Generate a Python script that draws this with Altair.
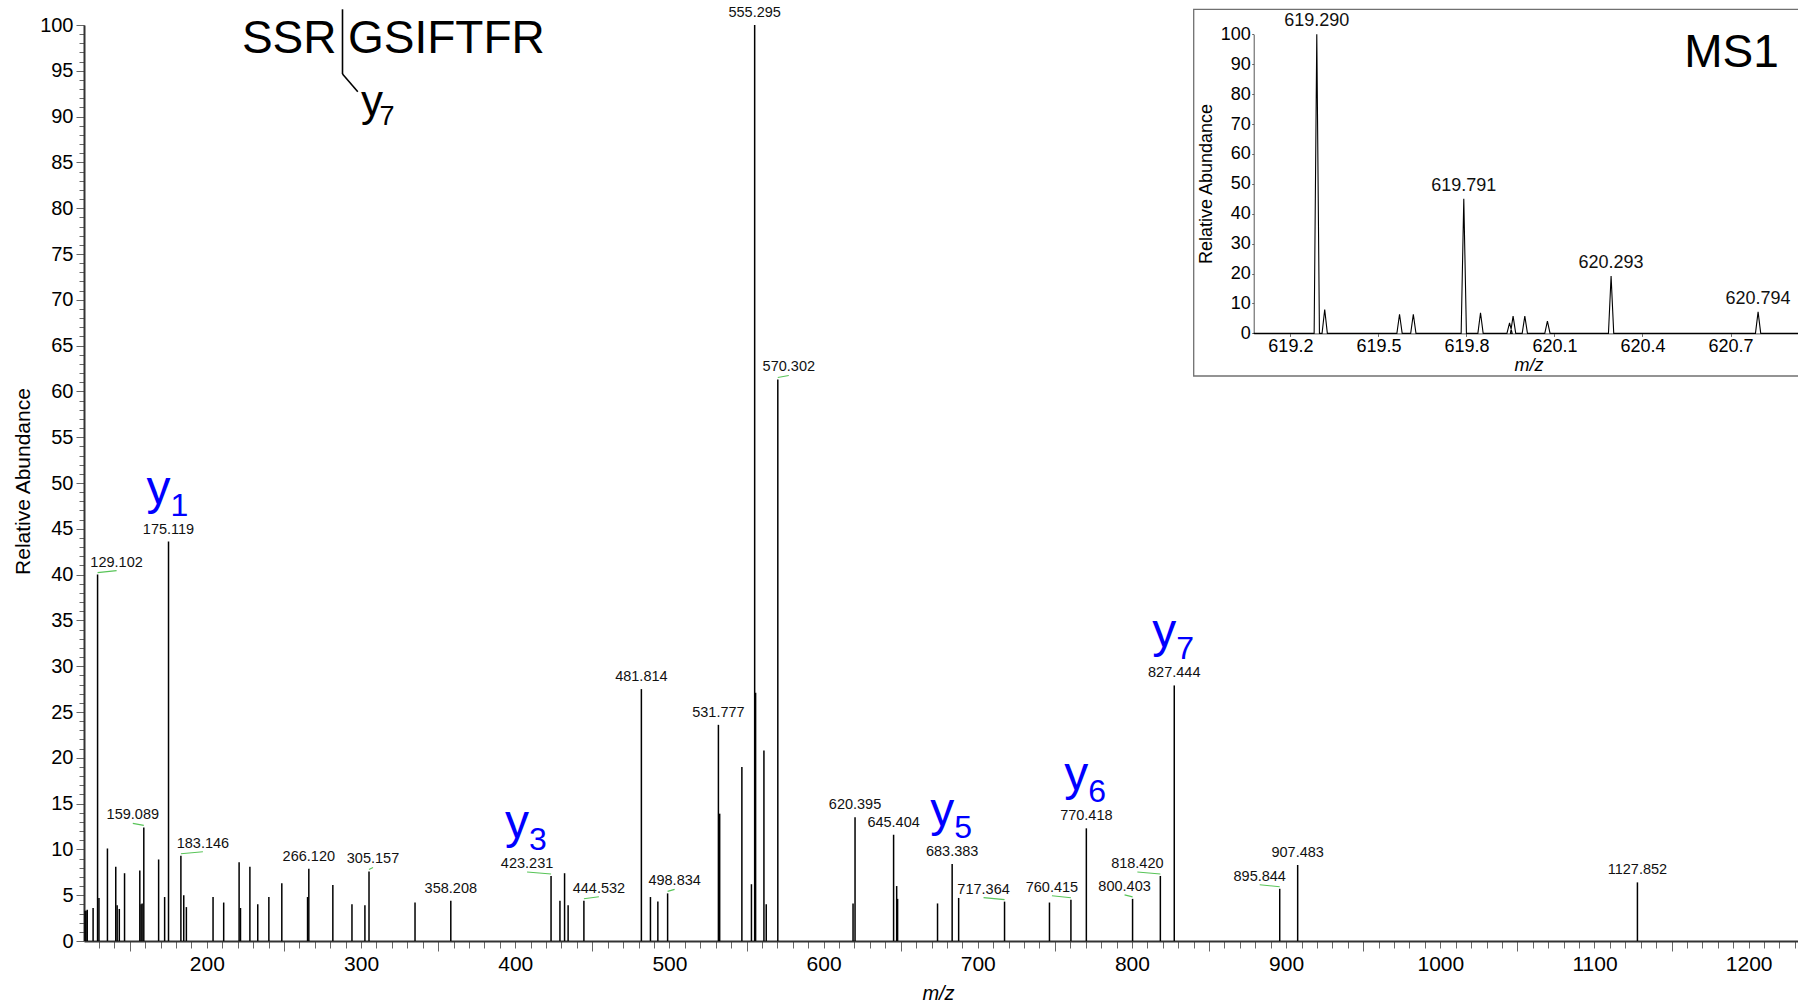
import altair as alt
import pandas as pd

FONT = "Liberation Sans"

# ---------------- MS2 spectrum: centroid m/z and relative abundance (%) ----------------
ms2_mz = [
    121.0, 121.6, 122.4, 126.2, 129.102, 130.0, 135.5, 140.9, 141.8, 143.2,
    146.6, 156.5, 157.3, 158.0, 159.089, 168.7, 172.6, 175.119, 183.146, 185.0,
    186.7, 204.0, 210.9, 220.9, 221.8, 227.9, 233.0, 240.2, 248.6, 265.3,
    266.120, 281.7, 294.1, 302.5, 305.157, 335.0, 358.208, 423.231, 429.0, 432.0,
    434.3, 444.532, 481.814, 487.7, 492.5, 498.834, 531.777, 532.6, 547.0, 553.2,
    555.295, 555.9, 561.3, 562.8, 570.302, 619.1, 620.395, 645.404, 647.4, 648.0,
    673.9, 683.383, 687.6, 717.364, 746.5, 760.415, 770.418, 800.403, 818.420, 827.444,
    895.844, 907.483, 1127.852,
]
ms2_int = [
    3.3, 3.3, 3.4, 3.6, 40.0, 4.7, 10.1, 8.1, 3.9, 3.5,
    7.4, 7.7, 4.0, 4.1, 12.4, 8.9, 4.8, 43.6, 9.3, 5.0,
    3.7, 4.8, 4.2, 8.6, 3.6, 8.1, 4.0, 4.8, 6.3, 4.8,
    7.9, 6.1, 4.0, 3.9, 7.6, 4.2, 4.4, 7.1, 4.4, 7.4,
    3.9, 4.4, 27.5, 4.8, 4.3, 5.2, 23.6, 13.9, 19.0, 6.2,
    100.0, 27.1, 20.8, 4.0, 61.3, 4.1, 13.5, 11.6, 6.0, 4.6,
    4.1, 8.4, 4.7, 4.3, 4.2, 4.5, 12.3, 4.6, 7.1, 27.9,
    5.7, 8.3, 6.4,
]
ms2_labelled = [
    "129.102", "159.089", "175.119", "183.146", "266.120", "305.157", "358.208",
    "423.231", "444.532", "481.814", "498.834", "531.777", "555.295", "570.302",
    "620.395", "645.404", "683.383", "717.364", "760.415", "770.418", "800.403",
    "818.420", "827.444", "895.844", "907.483", "1127.852",
]

# fragment ions annotated in blue (y-ion number -> peak)
ion_numbers = ["1", "3", "5", "6", "7"]
ion_peaks = ["175.119", "423.231", "683.383", "770.418", "827.444"]

# ---------------- MS1 precursor isotope envelope ----------------
ms1_mz = [619.290, 619.317, 619.572, 619.619, 619.791, 619.848,
          619.947, 619.959, 619.999, 620.076, 620.293, 620.794]
ms1_int = [100.0, 8.0, 6.4, 6.4, 45.0, 6.9, 3.5, 5.8, 5.8, 4.1, 19.2, 7.2]
ms1_labelled = ["619.290", "619.791", "620.293", "620.794"]

# axis tick values
x_minor_ticks = list(range(130, 1240, 10))
x_mid_ticks = list(range(150, 1200, 100))
y_label_ticks = list(range(0, 101, 5))
y_minor_ticks = list(range(0, 101, 1))
ms1_x_ticks = [619.2, 619.5, 619.8, 620.1, 620.4, 620.7]
ms1_y_ticks = list(range(0, 101, 10))

# ---------------- layout ----------------
PAD_L, PAD_T, PAD_B = 84, 25, 65
PLOT_W, PLOT_H = 1714, 916
X_MIN, X_MAX = 120.3, 1232.0
MZ_PER_PX = (X_MAX - X_MIN) / PLOT_W
PROFILE_HALF_WIDTH = 0.009  # m/z half width of the drawn MS1 profile peaks

# inset frame inside the plot area (pixels)
INSET_LEFT, INSET_RIGHT = 1169.7, 1714.0
INSET_TOP, INSET_BASE = 9.3, 308.4

# labels placed beside their peak (pixel shift), joined by a short green leader
label_shift_px = {
    "129.102": 19, "159.089": -11, "183.146": 22, "305.157": 4, "423.231": -24,
    "444.532": 15, "498.834": 7, "570.302": 11, "717.364": -21, "760.415": -19,
    "800.403": -8, "818.420": -23, "895.844": -20,
}

# ---------------- tables ----------------
ms2 = pd.DataFrame({"mz": ms2_mz, "inten": ms2_int})
ms2["base"] = 0.0
ms2["label"] = ms2["mz"].map(lambda v: f"{v:.3f}")
lab = ms2[ms2["label"].isin(ms2_labelled)].copy()
lab["shift"] = lab["label"].map(lambda s: label_shift_px.get(s, 0))
lab["label_x"] = lab["mz"] + lab["shift"] * MZ_PER_PX
lead = lab[lab["shift"] != 0].copy()
ions = lab.set_index("label").loc[ion_peaks].reset_index()
ions["ion"] = ion_numbers

ms1 = pd.DataFrame({"mz": ms1_mz, "inten": ms1_int})
ms1["label"] = ms1["mz"].map(lambda v: f"{v:.3f}")
ms1_lab = ms1[ms1["label"].isin(ms1_labelled)]
prof_x = [619.075]
prof_y = [0.0]
for m, h in zip(ms1_mz, ms1_int):
    prof_x += [m - PROFILE_HALF_WIDTH, m, m + PROFILE_HALF_WIDTH]
    prof_y += [0.0, h, 0.0]
prof_x.append(620.93)
prof_y.append(0.0)
profile = pd.DataFrame({"mz": prof_x, "inten": prof_y, "k": range(len(prof_x))})

one = pd.DataFrame({"k": [0]})

# ---------------- scales ----------------
xs = alt.Scale(domain=[X_MIN, X_MAX], nice=False, zero=False)
ys = alt.Scale(domain=[0, 100], nice=False, zero=False)
xs_in = alt.Scale(domain=[619.075, 620.93], range=[INSET_LEFT, INSET_RIGHT], nice=False, zero=False)
ys_in = alt.Scale(domain=[0, 100], range=[INSET_BASE, INSET_TOP], nice=False, zero=False)

AX = dict(grid=False, labelFont=FONT, titleFont=FONT, labelColor="black", titleColor="black",
          tickColor="#666666", tickWidth=1, labelOverlap=False, titleFontWeight="normal")

# ---------------- MS2 layers ----------------
peaks = alt.Chart(ms2).mark_rule(color="black", strokeWidth=1.5).encode(
    x=alt.X("mz:Q", scale=xs, axis=alt.Axis(
        orient="bottom", values=x_minor_ticks, tickSize=7, labelFontSize=21, labelPadding=5,
        labelExpr="datum.value % 100 === 0 ? format(datum.value, 'd') : ''",
        domainColor="#333333", domainWidth=2,
        title="m/z", titleFontStyle="italic", titleFontSize=20,
        titleX=854, titleY=52, titleBaseline="middle", titleAlign="center", **AX)),
    y=alt.Y("inten:Q", scale=ys, axis=alt.Axis(
        orient="left", values=y_label_ticks, tickSize=8, labelFontSize=20, labelPadding=3,
        domainColor="#333333", domainWidth=2,
        title="Relative Abundance", titleFontSize=21, titleAngle=270,
        titleX=-61, titleY=456, titleBaseline="middle", titleAlign="center", **AX)),
    y2=alt.Y2("base:Q"),
)

minor_ticks = alt.Chart(ms2).mark_point(opacity=0).encode(
    x=alt.X("mz:Q", scale=xs, axis=alt.Axis(
        orient="bottom", values=x_mid_ticks, tickSize=10, labels=False, domain=False,
        title="", **AX)),
    y=alt.Y("inten:Q", scale=ys, axis=alt.Axis(
        orient="left", values=y_minor_ticks, tickSize=5, labels=False, domain=False,
        title="", **AX)),
)

leaders = alt.Chart(lead).mark_rule(color="#58c458", strokeWidth=1.1, yOffset=-2, y2Offset=-4).encode(
    x=alt.X("mz:Q", scale=xs, axis=None),
    x2=alt.X2("label_x:Q"),
    y=alt.Y("inten:Q", scale=ys, axis=None),
    y2=alt.Y2("inten:Q"),
)

peak_labels = alt.Chart(lab).mark_text(
    baseline="bottom", dy=-5, fontSize=14.5, font=FONT, color="#111111"
).encode(
    x=alt.X("label_x:Q", scale=xs, axis=None),
    y=alt.Y("inten:Q", scale=ys, axis=None),
    text="label:N",
)

ion_y = alt.Chart(ions).mark_text(
    text="y", align="right", baseline="alphabetic", dx=2, dy=-38, fontSize=48, font=FONT, color="#0000ff"
).encode(
    x=alt.X("label_x:Q", scale=xs, axis=None),
    y=alt.Y("inten:Q", scale=ys, axis=None),
)

ion_n = alt.Chart(ions).mark_text(
    align="left", baseline="alphabetic", dx=2, dy=-26, fontSize=32, font=FONT, color="#0000ff"
).encode(
    x=alt.X("label_x:Q", scale=xs, axis=None),
    y=alt.Y("inten:Q", scale=ys, axis=None),
    text="ion:N",
)

# ---------------- peptide sequence with y7 cleavage ----------------
seq_left = alt.Chart(one).mark_text(
    text="SSR", align="right", baseline="alphabetic", fontSize=46, font=FONT, color="black"
).encode(x=alt.value(252.5), y=alt.value(28.3))
seq_right = alt.Chart(one).mark_text(
    text="GSIFTFR", align="left", baseline="alphabetic", fontSize=46, font=FONT, color="black"
).encode(x=alt.value(264), y=alt.value(28.3))
cut_bar = alt.Chart(one).mark_rule(color="black", strokeWidth=1.6).encode(
    x=alt.value(258.5), y=alt.value(-15.7), y2=alt.value(49))
cut_tail = alt.Chart(one).mark_rule(color="black", strokeWidth=1.6).encode(
    x=alt.value(258.5), x2=alt.value(273.8), y=alt.value(49), y2=alt.value(66.7))
cut_y = alt.Chart(one).mark_text(
    text="y", align="left", baseline="alphabetic", fontSize=44, font=FONT, color="black"
).encode(x=alt.value(277), y=alt.value(91))
cut_n = alt.Chart(one).mark_text(
    text="7", align="left", baseline="alphabetic", fontSize=27, font=FONT, color="black"
).encode(x=alt.value(295.5), y=alt.value(100))

# ---------------- MS1 inset ----------------
inset_box = alt.Chart(one).mark_rect(fillOpacity=0, stroke="#707070", strokeWidth=1.3).encode(
    x=alt.value(1109.7), x2=alt.value(1730), y=alt.value(-15.7), y2=alt.value(351))

# axis groups are moved into the inset with a negative (inward) offset
inset_line = alt.Chart(profile).mark_line(color="black", strokeWidth=1.1).encode(
    x=alt.X("mz:Q", scale=xs_in, axis=alt.Axis(
        orient="bottom", offset=INSET_BASE - PLOT_H, values=ms1_x_ticks, format=".1f", tickSize=3,
        labelFontSize=18, labelPadding=1, domainColor="#555555", domainWidth=1,
        title="m/z", titleFontStyle="italic", titleFontSize=18,
        titleX=1444.6, titleY=32.4, titleBaseline="middle", titleAlign="center", **AX)),
    y=alt.Y("inten:Q", scale=ys_in, axis=alt.Axis(
        orient="left", offset=-INSET_LEFT, values=ms1_y_ticks, tickSize=2, labelFontSize=18,
        labelPadding=1.5, domainColor="#555555", domainWidth=1,
        title="Relative Abundance", titleFontSize=18, titleAngle=270,
        titleX=-47.4, titleY=158.5, titleBaseline="middle", titleAlign="center", **AX)),
    order="k:Q",
)

inset_labels = alt.Chart(ms1_lab).mark_text(
    baseline="bottom", dy=-4, fontSize=18, font=FONT, color="#111111"
).encode(
    x=alt.X("mz:Q", scale=xs_in, axis=None),
    y=alt.Y("inten:Q", scale=ys_in, axis=None),
    text="label:N",
)

ms1_tag = alt.Chart(one).mark_text(
    text="MS1", align="center", baseline="alphabetic", fontSize=46, font=FONT, color="black"
).encode(x=alt.value(1647.5), y=alt.value(41.7))

chart = alt.layer(
    minor_ticks, peaks, leaders, peak_labels, ion_y, ion_n,
    seq_left, seq_right, cut_bar, cut_tail, cut_y, cut_n,
    inset_box, inset_line, inset_labels, ms1_tag,
).resolve_scale(
    x="independent", y="independent"
).resolve_axis(
    x="independent", y="independent"
).properties(
    width=PLOT_W, height=PLOT_H,
    padding={"left": PAD_L, "top": PAD_T, "right": 0, "bottom": PAD_B},
    autosize=alt.AutoSizeParams(type="none"),
    background="white",
).configure_view(stroke=None)

chart.save("out.html", embed_options={"renderer": "svg", "actions": False})
